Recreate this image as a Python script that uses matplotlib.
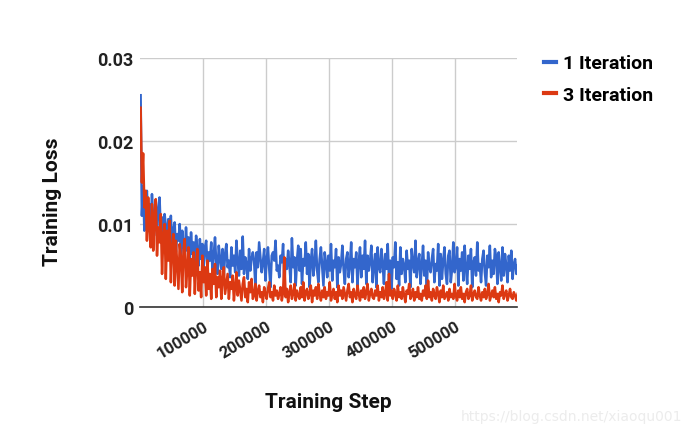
import numpy as np
import matplotlib.pyplot as plt
import matplotlib.transforms as mtransforms
from matplotlib.lines import Line2D

# loss values, in units of 1e-4, one every 2000 steps
loss_1iter = [255, 110, 145, 92, 130, 140, 98, 124, 88, 136,
              104, 94, 128, 86, 118, 132, 90, 108, 76, 112,
              98, 72, 106, 84, 110, 70, 94, 102, 66, 88,
              80, 100, 62, 92, 74, 60, 96, 68, 84, 56,
              90, 64, 78, 52, 86, 70, 50, 82, 58, 76,
              48, 72, 80, 46, 66, 56, 78, 44, 62, 84,
              52, 40, 74, 58, 46, 70, 38, 64, 76, 48,
              56, 36, 72, 50, 62, 42, 80, 54, 38, 68,
              46, 85, 40, 60, 52, 34, 70, 44, 58, 66,
              56, 26, 66, 48, 78, 60, 42, 54, 70, 32,
              58, 72, 46, 24, 62, 66, 56, 80, 44, 50,
              36, 62, 54, 76, 28, 58, 46, 68, 52, 30,
              83, 48, 60, 26, 56, 74, 44, 70, 28, 58,
              50, 78, 40, 64, 24, 56, 70, 38, 52, 80,
              44, 30, 58, 72, 48, 26, 66, 54, 36, 62,
              44, 76, 32, 56, 48, 70, 24, 60, 42, 52,
              74, 46, 28, 58, 66, 36, 50, 78, 30, 58,
              48, 66, 26, 54, 72, 36, 62, 46, 80, 28,
              62, 44, 56, 74, 30, 50, 64, 24, 72, 48,
              42, 70, 52, 28, 64, 46, 76, 32, 56, 22,
              60, 48, 78, 34, 54, 26, 72, 40, 58, 50,
              30, 68, 46, 56, 24, 70, 52, 42, 80, 36,
              54, 64, 28, 50, 74, 38, 56, 22, 66, 48,
              42, 58, 70, 30, 52, 44, 76, 26, 64, 34,
              56, 72, 40, 28, 62, 68, 30, 46, 78, 42,
              50, 72, 26, 58, 44, 66, 32, 74, 48, 28,
              62, 46, 70, 24, 54, 60, 38, 78, 44, 52,
              30, 58, 68, 42, 26, 62, 48, 74, 36, 56,
              40, 70, 60, 28, 66, 48, 32, 72, 38, 64,
              50, 30, 62, 44, 68, 34, 52, 58, 40, 50]

loss_3iter = [240, 150, 185, 120, 140, 80, 132, 96, 72, 124,
              68, 110, 130, 62, 96, 78, 112, 40, 86, 100,
              34, 92, 56, 104, 30, 70, 88, 26, 80, 50,
              22, 76, 60, 18, 68, 82, 24, 46, 72, 14,
              58, 38, 66, 16, 50, 70, 20, 42, 12, 62,
              30, 48, 14, 56, 22, 40, 10, 46, 28, 52,
              12, 36, 24, 44, 10, 34, 48, 16, 28, 40,
              10, 30, 22, 38, 8, 26, 42, 14, 32, 20,
              8, 28, 36, 12, 22, 6, 30, 18, 34, 10,
              14, 28, 8, 20, 26, 12, 18, 6, 24, 16,
              10, 22, 30, 12, 18, 8, 26, 14, 20, 10,
              16, 24, 8, 18, 60, 12, 22, 6, 18, 26,
              10, 16, 28, 8, 20, 14, 10, 24, 12, 30,
              8, 18, 22, 10, 16, 26, 6, 20, 14, 24,
              10, 28, 16, 8, 20, 12, 24, 10, 18, 14,
              30, 8, 16, 22, 10, 18, 6, 26, 14, 20,
              10, 24, 16, 8, 20, 28, 12, 18, 6, 22,
              14, 10, 26, 16, 8, 20, 12, 24, 10, 18,
              28, 8, 16, 22, 12, 10, 20, 14, 26, 8,
              18, 12, 24, 10, 16, 30, 8, 40, 14, 20,
              10, 22, 16, 8, 26, 12, 18, 10, 24, 14,
              6, 20, 16, 28, 10, 14, 22, 8, 18, 12,
              24, 10, 16, 8, 20, 14, 26, 10, 32, 12,
              18, 8, 22, 14, 10, 24, 16, 6, 20, 12,
              26, 10, 14, 18, 8, 22, 12, 16, 10, 28,
              14, 8, 20, 12, 24, 10, 16, 6, 18, 22,
              10, 14, 26, 8, 16, 20, 12, 10, 24, 14,
              8, 18, 12, 22, 10, 16, 28, 8, 14, 20,
              12, 24, 10, 16, 6, 18, 14, 26, 10, 16,
              20, 8, 14, 22, 12, 10, 18, 14, 8, 16]

steps_1 = 1000 + 2000 * np.arange(len(loss_1iter))
steps_3 = 1000 + 2000 * np.arange(len(loss_3iter))

x_ticks = [100000, 200000, 300000, 400000, 500000]
y_ticks = [0, 0.01, 0.02, 0.03]
y_tick_labels = ['0', '0.01', '0.02', '0.03']

blue = '#3366cc'
red = '#dc3912'

plt.rcParams['font.family'] = ['Roboto', 'DejaVu Sans']

fig = plt.figure(figsize=(6.93, 4.39), dpi=100)
ax = fig.add_axes([0.202, 0.298, 0.544, 0.568])

ax.plot(steps_1, np.array(loss_1iter) * 1e-4, color=blue, lw=1.8, zorder=3)
ax.plot(steps_3, np.array(loss_3iter) * 1e-4, color=red, lw=1.8, zorder=4)

ax.set_xlim(0, 598000)
ax.set_ylim(0, 0.03)
ax.set_xticks(x_ticks)
ax.set_xticklabels([str(t) for t in x_ticks], rotation=31, ha='right',
                   rotation_mode='anchor', fontsize=12, fontweight='bold', color='#222222')
shift = mtransforms.ScaledTranslation(5 / 100, 0, fig.dpi_scale_trans)
for lbl in ax.get_xticklabels():
    lbl.set_transform(lbl.get_transform() + shift)
ax.set_yticks(y_ticks)
ax.set_yticklabels(y_tick_labels, fontsize=13, fontweight='bold', color='#222222')
ax.tick_params(axis='both', length=0)
ax.tick_params(axis='y', pad=5)
ax.tick_params(axis='x', pad=8)

ax.grid(True, color='#cccccc', lw=1)
ax.set_axisbelow(True)
for s in ['top', 'right', 'left']:
    ax.spines[s].set_visible(False)
ax.spines['bottom'].set_color('#333333')
ax.spines['bottom'].set_linewidth(1.2)
ax.spines['bottom'].set_zorder(5)

ax.set_xlabel('Training Step', fontsize=15, fontweight='bold', color='#111111')
ax.xaxis.set_label_coords(0.5, -0.34)
ax.set_ylabel('Training Loss', fontsize=15, fontweight='bold', color='#111111')
ax.yaxis.set_label_coords(-0.207, 0.426)

handles = [Line2D([], [], color=blue, lw=3), Line2D([], [], color=red, lw=3)]
fig.legend(handles, ['1 Iteration', '3 Iteration'], loc='upper left',
           bbox_to_anchor=(0.766, 0.905), frameon=False, handlelength=0.6,
           handletextpad=0.35, labelspacing=0.7, borderpad=0.2,
           prop={'weight': 'bold', 'size': 14})

fig.text(0.985, 0.035, 'https://blog.csdn.net/xiaoqu001', ha='right', va='bottom',
         fontsize=10, color='#ececec', family='DejaVu Sans')

fig.savefig('out.png', dpi=100)
